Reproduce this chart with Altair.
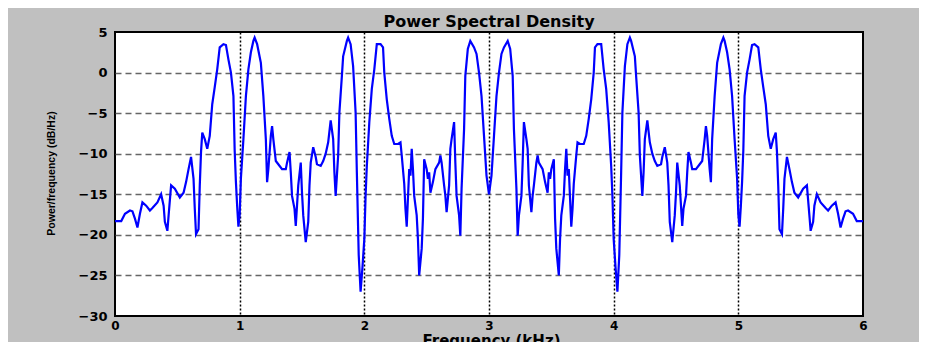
import altair as alt
import pandas as pd

# Frequency (kHz) and PSD (dB/Hz), lower half of the band (0 - 3 kHz)
freq_low = [0.00, 0.05, 0.08, 0.12, 0.14, 0.16, 0.18, 0.20, 0.22, 0.25,
            0.28, 0.30, 0.34, 0.37, 0.39, 0.40, 0.42, 0.43, 0.45, 0.48,
            0.52, 0.55, 0.57, 0.59, 0.61, 0.63, 0.64, 0.65, 0.67, 0.68,
            0.69, 0.70, 0.72, 0.74, 0.76, 0.78, 0.80, 0.82, 0.84, 0.87,
            0.89, 0.91, 0.93, 0.95, 0.96, 0.97, 0.98, 0.99, 1.00, 1.01,
            1.03, 1.05, 1.07, 1.09, 1.11, 1.12, 1.14, 1.17, 1.19, 1.21,
            1.22, 1.23, 1.25, 1.26, 1.27, 1.29, 1.31, 1.34, 1.37, 1.38,
            1.40, 1.41, 1.42, 1.44, 1.45, 1.47, 1.49, 1.50, 1.51, 1.53,
            1.55, 1.56, 1.57, 1.59, 1.61, 1.62, 1.65, 1.67, 1.69, 1.71,
            1.73, 1.75, 1.76, 1.77, 1.79, 1.80, 1.82, 1.83, 1.86, 1.87,
            1.89, 1.91, 1.93, 1.94, 1.955, 1.97, 1.985, 2.00, 2.01, 2.02,
            2.04, 2.06, 2.08, 2.10, 2.13, 2.15, 2.16, 2.18, 2.20, 2.22,
            2.24, 2.27, 2.29, 2.30, 2.32, 2.33, 2.34, 2.36, 2.37, 2.38,
            2.39, 2.40, 2.42, 2.43, 2.44, 2.46, 2.47, 2.48, 2.50, 2.51,
            2.52, 2.53, 2.55, 2.57, 2.60, 2.61, 2.62, 2.64, 2.65, 2.66,
            2.68, 2.69, 2.70, 2.72, 2.73, 2.74, 2.76, 2.77, 2.78, 2.80,
            2.81, 2.83, 2.85, 2.88, 2.90, 2.92, 2.94, 2.96, 2.98, 3.00]
psd_low = [-18.3, -18.3, -17.4, -17.0, -17.1, -18.0, -19.1, -17.4, -16.0, -16.4,
           -17.0, -16.7, -16.0, -15.0, -16.4, -18.4, -19.5, -17.6, -13.9, -14.3,
           -15.4, -14.8, -13.5, -11.9, -10.4, -13.1, -16.8, -19.9, -19.3, -13.9,
           -9.8, -7.4, -8.2, -9.4, -7.8, -3.9, -1.8, 0.4, 3.1, 3.5,
           3.4, 1.6, 0.0, -2.9, -9.6, -13.5, -16.5, -19.0, -17.5, -13.0,
           -8.2, -2.9, 0.4, 2.5, 3.9, 4.3, 3.5, 1.2, -2.9, -8.2,
           -13.5, -11.9, -7.8, -6.6, -8.2, -10.9, -11.3, -11.9, -11.9, -11.1,
           -9.8, -12.3, -15.2, -16.8, -18.9, -13.9, -11.1, -14.8, -17.6, -20.9,
           -18.4, -13.9, -11.1, -9.2, -10.4, -11.3, -11.5, -10.9, -10.0, -8.6,
           -5.9, -8.2, -12.3, -15.2, -10.2, -4.9, -0.4, 2.0, 3.9, 4.3,
           3.5, 0.8, -4.9, -12.3, -22.5, -27.0, -24.0, -20.5, -15.2, -11.5,
           -6.1, -2.0, 0.4, 3.5, 3.5, 3.1, 0.0, -3.3, -5.7, -7.8,
           -8.8, -8.8, -8.6, -10.2, -13.7, -16.8, -19.0, -11.9, -12.7, -9.4,
           -11.9, -15.2, -17.6, -20.5, -25.0, -21.7, -18.0, -10.7, -11.9, -13.1,
           -12.3, -14.8, -13.5, -11.9, -11.1, -10.2, -11.1, -13.9, -15.2, -17.2,
           -13.9, -9.4, -8.2, -6.1, -11.1, -15.2, -17.6, -20.1, -14.3, -7.0,
           -0.4, 2.9, 3.9, 3.1, 2.3, 0.0, -2.9, -7.8, -12.7, -15.0]

# Upper half of the band (3 - 6 kHz)
freq_high = [3.02, 3.04, 3.06, 3.08, 3.10, 3.12, 3.15, 3.17, 3.19, 3.20,
             3.22, 3.23, 3.24, 3.26, 3.27, 3.28, 3.30, 3.31, 3.32, 3.34,
             3.35, 3.36, 3.38, 3.39, 3.40, 3.43, 3.45, 3.47, 3.48, 3.49,
             3.50, 3.52, 3.53, 3.54, 3.56, 3.57, 3.58, 3.60, 3.61, 3.62,
             3.63, 3.64, 3.66, 3.67, 3.68, 3.70, 3.71, 3.73, 3.76, 3.78,
             3.80, 3.82, 3.84, 3.85, 3.87, 3.90, 3.92, 3.94, 3.96, 3.98,
             3.99, 4.00, 4.015, 4.03, 4.045, 4.06, 4.07, 4.09, 4.11, 4.13,
             4.14, 4.17, 4.18, 4.20, 4.21, 4.23, 4.24, 4.25, 4.27, 4.29,
             4.31, 4.33, 4.35, 4.38, 4.39, 4.41, 4.43, 4.44, 4.45, 4.47,
             4.49, 4.50, 4.51, 4.53, 4.55, 4.56, 4.58, 4.59, 4.60, 4.62,
             4.63, 4.66, 4.69, 4.71, 4.73, 4.74, 4.75, 4.77, 4.78, 4.79,
             4.81, 4.83, 4.86, 4.88, 4.89, 4.91, 4.93, 4.95, 4.97, 4.99,
             5.00, 5.01, 5.02, 5.03, 5.04, 5.05, 5.07, 5.09, 5.11, 5.13,
             5.16, 5.18, 5.20, 5.22, 5.24, 5.26, 5.28, 5.30, 5.31, 5.32,
             5.33, 5.35, 5.36, 5.37, 5.39, 5.41, 5.43, 5.45, 5.48, 5.52,
             5.55, 5.57, 5.58, 5.60, 5.61, 5.63, 5.66, 5.70, 5.72, 5.75,
             5.78, 5.80, 5.82, 5.84, 5.86, 5.88, 5.92, 5.95, 6.00]
psd_high = [-12.7, -7.8, -2.9, 0.0, 2.3, 3.1, 3.9, 2.9, -0.4, -7.0,
            -14.3, -20.1, -17.6, -15.2, -11.1, -6.1, -8.2, -9.4, -13.9, -17.2,
            -15.2, -13.9, -11.1, -10.2, -11.1, -11.9, -13.5, -14.8, -12.3, -13.1,
            -11.9, -10.7, -18.0, -21.7, -25.0, -20.5, -17.6, -15.2, -11.9, -9.4,
            -12.7, -11.9, -19.0, -16.8, -13.7, -10.2, -8.6, -8.8, -8.8, -7.8,
            -5.7, -3.3, 0.0, 3.1, 3.5, 3.5, 0.4, -2.0, -6.1, -11.5,
            -15.2, -20.5, -24.0, -27.0, -22.5, -12.3, -4.9, 0.8, 3.5, 4.3,
            3.9, 2.0, -0.4, -4.9, -10.2, -15.2, -12.3, -8.2, -5.9, -8.6,
            -10.0, -10.9, -11.5, -11.3, -10.4, -9.2, -11.1, -13.9, -18.4, -20.9,
            -17.6, -14.8, -11.1, -13.9, -18.9, -16.8, -15.2, -12.3, -9.8, -11.1,
            -11.9, -11.9, -11.3, -10.9, -8.2, -6.6, -7.8, -11.9, -13.5, -8.2,
            -2.9, 1.2, 3.5, 4.3, 3.9, 2.5, 0.4, -2.9, -8.2, -13.0,
            -17.5, -19.0, -16.5, -13.5, -9.6, -2.9, 0.0, 1.6, 3.4, 3.5,
            3.1, 0.4, -1.8, -3.9, -7.8, -9.4, -8.2, -7.4, -9.8, -13.9,
            -19.3, -19.9, -16.8, -13.1, -10.4, -11.9, -13.5, -14.8, -15.4, -14.3,
            -13.9, -17.6, -19.5, -18.4, -16.4, -15.0, -16.0, -16.7, -17.0, -16.4,
            -16.0, -17.4, -19.1, -18.0, -17.1, -17.0, -17.4, -18.3, -18.3]

x_ticks = [0, 1, 2, 3, 4, 5, 6]
y_ticks = [5, 0, -5, -10, -15, -20, -25, -30]

df = pd.DataFrame({"f": freq_low + freq_high, "p": psd_low + psd_high})

x_axis = alt.Axis(
    values=x_ticks, format="d", title="Frequency (kHz)",
    grid=True, gridColor="black", gridDash=[2, 2], gridWidth=1.5,
    gridOpacity={"condition": {"test": "datum.value == 0 || datum.value == 6", "value": 0}, "value": 1},
    ticks=False, domain=False, labelPadding=4, labelFlush=False,
    labelFont="DejaVu Sans", labelFontWeight="bold", labelFontSize=12, labelColor="black",
    titleFont="DejaVu Sans", titleFontWeight="bold", titleFontSize=15, titleColor="black",
    titleX=376, titleY=17, titleBaseline="top", titleAnchor="middle",
)
y_axis = alt.Axis(
    values=y_ticks, title="Power/frequency (dB/Hz)",
    grid=True, gridColor="#555555", gridDash=[6, 4], gridWidth=1.5,
    gridOpacity={"condition": {"test": "datum.value == 5 || datum.value == -30", "value": 0}, "value": 0.9},
    ticks=False, domain=False, labelPadding=8,
    labelFont="DejaVu Sans", labelFontWeight="bold", labelFontSize=13, labelColor="black",
    titleFont="Liberation Sans", titleFontWeight="bold", titleFontSize=10.5, titleColor="black",
    titleX=-64, titleY=141, titleAlign="center", titleBaseline="middle", titleAngle=270,
)

chart = alt.Chart(df).mark_line(color="#0000ff", strokeWidth=2.2).encode(
    x=alt.X("f:Q", scale=alt.Scale(domain=[0, 6], nice=False, zero=False), axis=x_axis),
    y=alt.Y("p:Q", scale=alt.Scale(domain=[-30, 5], nice=False, zero=False), axis=y_axis),
).properties(
    width=748, height=284,
    title=alt.TitleParams("Power Spectral Density", font="DejaVu Sans", fontWeight="bold",
                          fontSize=16, color="black", anchor="middle", offset=-4, frame="group"),
    background="#c0c0c0",
    padding={"left": 107, "top": 24, "right": 56, "bottom": 26},
    autosize=alt.AutoSizeParams(type="none"),
).configure_view(fill="white", stroke="black", strokeWidth=2)

chart.save("out.html", embed_options={"renderer": "svg", "actions": False})
